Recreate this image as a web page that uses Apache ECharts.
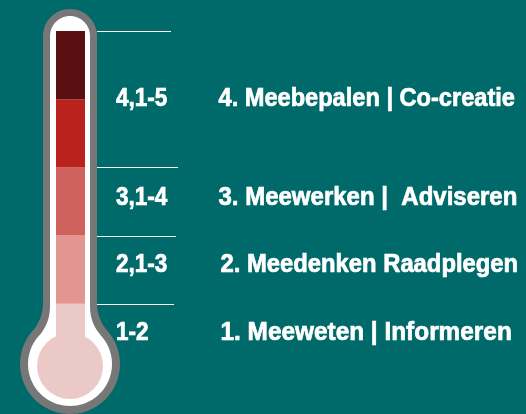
<!DOCTYPE html>
<html><head><meta charset="utf-8">
<script src="https://cdn.jsdelivr.net/npm/echarts@6/dist/echarts.min.js"></script>
<style>html,body{margin:0;padding:0;background:#006969}#c{width:526px;height:414px}</style>
</head><body><div id="c"></div>
<script>
// Thermometer bands, bottom to top (each band is one unit of the scale)
const bandValues = [1, 1, 1, 1, 1];
const bandColors = ['#ebc9c6', '#e39592', '#d0625d', '#ba221d', '#5a1010'];
// Range labels and stage names, bottom to top
const rangeLabels = ['1-2', '2,1-3', '3,1-4', '4,1-5'];
const stageLabels = ['1. Meeweten | Informeren', '2. Meedenken Raadplegen', '3. Meewerken |  Adviseren', '4. Meebepalen | Co-creatie'];
// Vertical centre of each label row, in scale units
const labelLevels = [0.57, 1.57, 2.55, 4.0];
// Separator lines, in scale units
const separatorLevels = [1, 2, 3, 5];

// styling (layout, not data)
const lineEnds = [174, 176, 178, 171];
const stageScaleX = [0.975, 0.952, 0.96, 0.944];
const stageOffsetX = [150, 150, 148, 148];

const chart = echarts.init(document.getElementById('c'), null, {renderer: 'canvas'});

function outline(xl, xr, topCy, neckY, ctrlY, jx, jy, cx, cy, R) {
  const pts = [];
  const rTop = (xr - xl) / 2, tcx = (xl + xr) / 2;
  for (let k = 0; k <= 30; k++) {
    const t = Math.PI + Math.PI * k / 30;
    pts.push([tcx + rTop * Math.cos(t), topCy + rTop * Math.sin(t)]);
  }
  pts.push([xr, neckY]);
  const quad = (p0, c, p1) => { for (let k = 1; k <= 12; k++) { const t = k / 12, u = 1 - t;
    pts.push([u*u*p0[0] + 2*u*t*c[0] + t*t*p1[0], u*u*p0[1] + 2*u*t*c[1] + t*t*p1[1]]); } };
  quad([xr, neckY], [xr, ctrlY], [jx, jy]);
  const a0 = Math.atan2(jy - cy, jx - cx), a1 = Math.PI - a0;
  for (let k = 1; k <= 60; k++) {
    const t = a0 + (a1 - a0) * k / 60;
    pts.push([cx + R * Math.cos(t), cy + R * Math.sin(t)]);
  }
  const jlx = 2 * cx - jx;
  quad([jlx, jy], [xl, ctrlY], [xl, neckY]);
  return pts;
}

const series = bandValues.map((v, i) => ({
  type: 'bar', stack: 'thermo', barWidth: '100%', z: 3,
  itemStyle: {color: bandColors[i]}, silent: true,
  data: [v]
}));
// separator lines
series.push({
  type: 'custom', silent: true, z: 4, clip: false,
  data: separatorLevels.map((lv, i) => ['t', lv, lineEnds[i]]),
  renderItem: (params, api) => {
    const p = api.coord(['t', api.value(1)]);
    const y = Math.round(p[1]) + 0.5;
    return {type: 'line', shape: {x1: 97, y1: y, x2: api.value(2), y2: y},
      style: {stroke: '#ffffff', lineWidth: 1}};
  }
});
// labels
const textStyle = (text) => ({text, fill: '#ffffff', stroke: '#ffffff', lineWidth: 0.7,
  font: 'bold 25px "Liberation Sans", Arial, sans-serif', verticalAlign: 'middle', align: 'left'});
series.push({
  type: 'custom', silent: true, z: 5, clip: false,
  data: labelLevels.map((lv) => ['t', lv]),
  renderItem: (params, api) => {
    const p = api.coord(['t', api.value(1)]);
    const i = params.dataIndex;
    return {type: 'group', children: [
      {type: 'text', x: p[0] + 45.5, y: p[1], scaleX: 0.9, style: textStyle(rangeLabels[i])},
      {type: 'text', x: p[0] + stageOffsetX[i], y: p[1], scaleX: stageScaleX[i], style: textStyle(stageLabels[i])}
    ]};
  }
});

chart.setOption({
  backgroundColor: '#006969',
  animation: false,
  grid: {left: 56, width: 29, top: 31, bottom: 42, containLabel: false},
  xAxis: {type: 'category', data: ['t'], show: false},
  yAxis: {type: 'value', min: 0, max: 5, show: false},
  graphic: [
    {type: 'polygon', z: 0, shape: {points: outline(43, 97, 36, 302, 318, 106, 329, 70, 364, 50)}, style: {fill: '#777777'}},
    {type: 'polygon', z: 1, shape: {points: outline(50, 90, 36, 306, 322, 99, 333, 70, 364, 42)}, style: {fill: '#ffffff'}},
    {type: 'circle', z: 2, shape: {cx: 70, cy: 366, r: 33}, style: {fill: '#ebc9c6'}}
  ],
  series: series
});
</script></body></html>
